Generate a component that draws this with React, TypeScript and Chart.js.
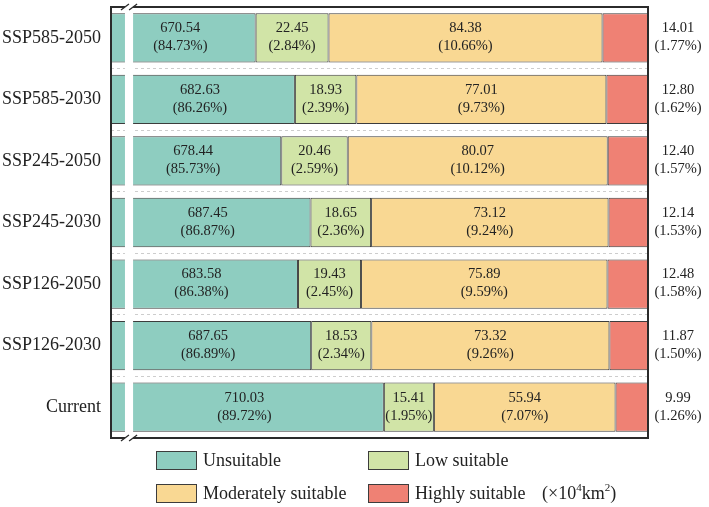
import React, { useEffect, useRef } from "react";
import { Chart, registerables } from "chart.js";

Chart.register(...registerables);

const categories = ["SSP585-2050", "SSP585-2030", "SSP245-2050", "SSP245-2030", "SSP126-2050", "SSP126-2030", "Current"];
const unsuitable = [670.54, 682.63, 678.44, 687.45, 683.58, 687.65, 710.03];
const unsuitablePct = [84.73, 86.26, 85.73, 86.87, 86.38, 86.89, 89.72];
const lowSuitable = [22.45, 18.93, 20.46, 18.65, 19.43, 18.53, 15.41];
const lowPct = [2.84, 2.39, 2.59, 2.36, 2.45, 2.34, 1.95];
const moderately = [84.38, 77.01, 80.07, 73.12, 75.89, 73.32, 55.94];
const moderatelyPct = [10.66, 9.73, 10.12, 9.24, 9.59, 9.26, 7.07];
const highly = [14.01, 12.8, 12.4, 12.14, 12.48, 11.87, 9.99];
const highlyPct = [1.77, 1.62, 1.57, 1.53, 1.58, 1.5, 1.26];
const seriesNames = ["Unsuitable", "Low suitable", "Moderately suitable", "Highly suitable"];
const unitLabel = ["(×10", "4", "km", "2", ")"];

// axis (broken) range
const AXIS_MIN = 626;
const AXIS_MAX = 791.38;
const BREAK_START = 630.3;
const BREAK_END = 632.8;

const COLORS = ["#8ecdc0", "#d1e4a7", "#f9d893", "#ef8174"];
const BORDER = "#3c3c3c";
const FONT = "'Liberation Serif', 'Times New Roman', serif";

export default function App() {
  const ref = useRef<HTMLCanvasElement | null>(null);

  useEffect(() => {
    document.body.style.margin = "0";
    const canvas = ref.current;
    if (!canvas) return;
    const values = [unsuitable, lowSuitable, moderately, highly];
    const pcts = [unsuitablePct, lowPct, moderatelyPct, highlyPct];

    const plugin = {
      id: "custom",
      afterDatasetsDraw(chart: any) {
        const ctx = chart.ctx as CanvasRenderingContext2D;
        const area = chart.chartArea;
        const xs = chart.scales.x;
        const gl = xs.getPixelForValue(BREAK_START);
        const gr = xs.getPixelForValue(BREAK_END);
        ctx.save();
        ctx.fillStyle = "#ffffff";
        ctx.fillRect(gl, area.top - 1, gr - gl, area.bottom - area.top + 2);

        ctx.fillStyle = "#222";
        ctx.font = `14.5px ${FONT}`;
        ctx.textAlign = "center";
        ctx.textBaseline = "middle";
        for (let d = 0; d < 4; d++) {
          const meta = chart.getDatasetMeta(d);
          meta.data.forEach((bar: any, i: number) => {
            const p = bar.getProps(["x", "y", "base"], true);
            let cx = (p.x + p.base) / 2;
            if (d === 0) cx = (p.x + area.left) / 2 - 3;
            if (d === 3) cx = area.right + 30;
            ctx.fillText(values[d][i].toFixed(2), cx, p.y - 9.5);
            ctx.fillText(`(${pcts[d][i].toFixed(2)}%)`, cx, p.y + 8.5);
          });
        }
        ctx.restore();
      },
      afterDraw(chart: any) {
        const ctx = chart.ctx as CanvasRenderingContext2D;
        const area = chart.chartArea;
        const xs = chart.scales.x;
        const gl = xs.getPixelForValue(BREAK_START);
        const gr = xs.getPixelForValue(BREAK_END);
        ctx.save();
        ctx.strokeStyle = "#2b2b2b";
        ctx.lineWidth = 2;
        ctx.beginPath();
        ctx.moveTo(area.left, area.top);
        ctx.lineTo(area.left, area.bottom);
        ctx.moveTo(area.right, area.top);
        ctx.lineTo(area.right, area.bottom);
        ctx.moveTo(area.left - 1, area.top);
        ctx.lineTo(gl, area.top);
        ctx.moveTo(gr, area.top);
        ctx.lineTo(area.right + 1, area.top);
        ctx.moveTo(area.left - 1, area.bottom);
        ctx.lineTo(gl, area.bottom);
        ctx.moveTo(gr, area.bottom);
        ctx.lineTo(area.right + 1, area.bottom);
        ctx.stroke();
        ctx.lineWidth = 1.3;
        ctx.beginPath();
        for (const gx of [gl, gr]) {
          for (const gy of [area.top, area.bottom]) {
            ctx.moveTo(gx - 4, gy + 3);
            ctx.lineTo(gx + 4, gy - 3);
          }
        }
        ctx.stroke();

        // legend
        const boxW = 41;
        const boxH = 19;
        const cols = [156, 368];
        const rows = [451, 484];
        ctx.font = `18px ${FONT}`;
        ctx.textAlign = "left";
        ctx.textBaseline = "middle";
        seriesNames.forEach((name, i) => {
          const bx = cols[i % 2];
          const by = rows[Math.floor(i / 2)];
          ctx.fillStyle = COLORS[i];
          ctx.fillRect(bx, by, boxW, boxH);
          ctx.strokeStyle = BORDER;
          ctx.lineWidth = 1;
          ctx.strokeRect(bx + 0.5, by + 0.5, boxW - 1, boxH - 1);
          ctx.fillStyle = "#222";
          ctx.fillText(name, bx + boxW + 6, by + boxH / 2 + 1);
        });
        // unit
        let ux = 542;
        const uy = rows[1] + boxH / 2 + 1;
        unitLabel.forEach((t, k) => {
          const sup = k === 1 || k === 3;
          ctx.font = sup ? `11px ${FONT}` : `18px ${FONT}`;
          ctx.fillText(t, ux, sup ? uy - 6 : uy);
          ux += ctx.measureText(t).width;
        });
        ctx.restore();
      },
    };

    const chart = new Chart(canvas, {
      type: "bar",
      data: {
        labels: categories,
        datasets: values.map((v, i) => ({
          label: seriesNames[i],
          data: v,
          backgroundColor: COLORS[i],
          borderColor: BORDER,
          borderWidth: 1,
          borderSkipped: false,
          categoryPercentage: 0.8,
          barPercentage: 1.0,
        })),
      },
      options: {
        indexAxis: "y",
        responsive: false,
        animation: false,
        layout: { padding: { left: 0, right: 61, top: 7, bottom: 69 } },
        plugins: { legend: { display: false }, tooltip: { enabled: false } },
        scales: {
          x: {
            stacked: true,
            display: false,
            min: AXIS_MIN,
            max: AXIS_MAX,
          },
          y: {
            stacked: true,
            afterFit: (s: any) => {
              s.width = 111;
              s.paddingTop = 0;
              s.paddingBottom = 0;
            },
            grid: { color: "#cdcdcd", drawTicks: false, offset: true },
            border: { display: false, dash: [3, 3] },
            ticks: { padding: 10, color: "#222", font: { family: FONT, size: 18 } },
          },
        },
      },
      plugins: [plugin],
    } as any);

    return () => chart.destroy();
  }, []);

  return <canvas ref={ref} width={709} height={507} style={{ display: "block", width: 709, height: 507 }} />;
}
